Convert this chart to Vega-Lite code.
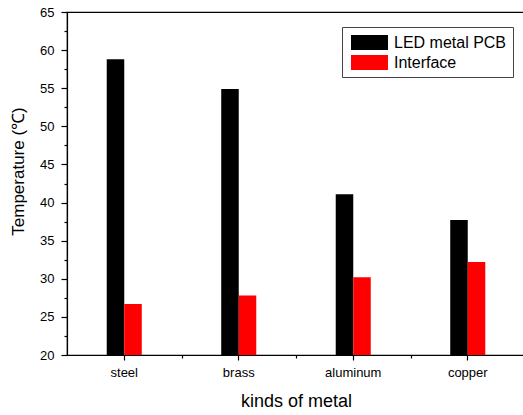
{
  "$schema": "https://vega.github.io/schema/vega-lite/v6.json",
  "autosize": {"type": "none"},
  "padding": {"left": 67, "top": 12, "right": 0, "bottom": 60},
  "width": 458,
  "height": 343,
  "background": "white",
  "config": {
    "view": {"stroke": "black", "strokeWidth": 1.2},
    "font": "Liberation Sans",
    "axis": {"domainColor": "black", "tickColor": "black", "labelColor": "black", "titleColor": "black", "grid": false, "domainWidth": 1.2, "tickWidth": 1.2}
  },
  "data": {
    "values": [
      {"metal": "steel", "series": "LED metal PCB", "temp": 58.8},
      {"metal": "steel", "series": "Interface", "temp": 26.7},
      {"metal": "brass", "series": "LED metal PCB", "temp": 54.9},
      {"metal": "brass", "series": "Interface", "temp": 27.8},
      {"metal": "aluminum", "series": "LED metal PCB", "temp": 41.1},
      {"metal": "aluminum", "series": "Interface", "temp": 30.2},
      {"metal": "copper", "series": "LED metal PCB", "temp": 37.7},
      {"metal": "copper", "series": "Interface", "temp": 32.2}
    ]
  },
  "encoding": {
    "x": {"field": "metal", "type": "nominal", "sort": ["steel", "brass", "aluminum", "copper"],
      "scale": {"paddingInner": 0.694, "paddingOuter": 0.347}},
    "y": {"field": "temp", "type": "quantitative", "scale": {"domain": [20, 65], "nice": false, "zero": false}}
  },
  "resolve": {"axis": {"x": "independent", "y": "independent"}},
  "layer": [
    {
      "mark": {"type": "bar", "clip": true},
      "encoding": {
        "x": {"field": "metal", "type": "nominal", "sort": ["steel", "brass", "aluminum", "copper"],
          "axis": {"orient": "bottom", "title": "kinds of metal", "labelAngle": 0, "labelFontSize": 13, "tickSize": 5, "labelPadding": 6, "titleFontSize": 18, "titleFontWeight": "normal", "titlePadding": 13}},
        "y": {"field": "temp", "type": "quantitative",
          "axis": {"orient": "left", "title": "Temperature (℃)", "values": [20, 25, 30, 35, 40, 45, 50, 55, 60, 65], "labelFontSize": 13, "tickSize": 6, "labelPadding": 7, "titleFontSize": 17, "titleFontWeight": "normal", "titlePadding": 12, "titleY": 159}},
        "xOffset": {"field": "series", "type": "nominal", "sort": ["LED metal PCB", "Interface"], "scale": {"paddingInner": 0, "paddingOuter": 0}},
        "color": {"field": "series", "type": "nominal", "sort": ["LED metal PCB", "Interface"],
          "scale": {"domain": ["LED metal PCB", "Interface"], "range": ["#000000", "#ff0000"]},
          "legend": {"title": null, "orient": "none", "legendX": 275, "legendY": 15, "strokeColor": "#444444", "padding": 6,
            "symbolType": "M-2,-0.81H2V0.81H-2Z", "symbolSize": 342, "symbolOffset": 12, "symbolStrokeWidth": 0, "labelFontSize": 16, "labelColor": "black", "rowPadding": 2, "labelOffset": 15}}
      }
    },
    {
      "mark": {"type": "bar", "opacity": 0},
      "encoding": {
        "x": {"field": "metal", "type": "nominal", "sort": ["steel", "brass", "aluminum", "copper"],
          "axis": {"orient": "bottom", "title": null, "labels": false, "domain": false, "tickSize": 3, "tickOffset": 57.25}},
        "y": {"field": "temp", "type": "quantitative",
          "axis": {"orient": "left", "title": null, "labels": false, "domain": false, "tickSize": 3, "values": [22.5, 27.5, 32.5, 37.5, 42.5, 47.5, 52.5, 57.5, 62.5]}}
      }
    }
  ]
}
